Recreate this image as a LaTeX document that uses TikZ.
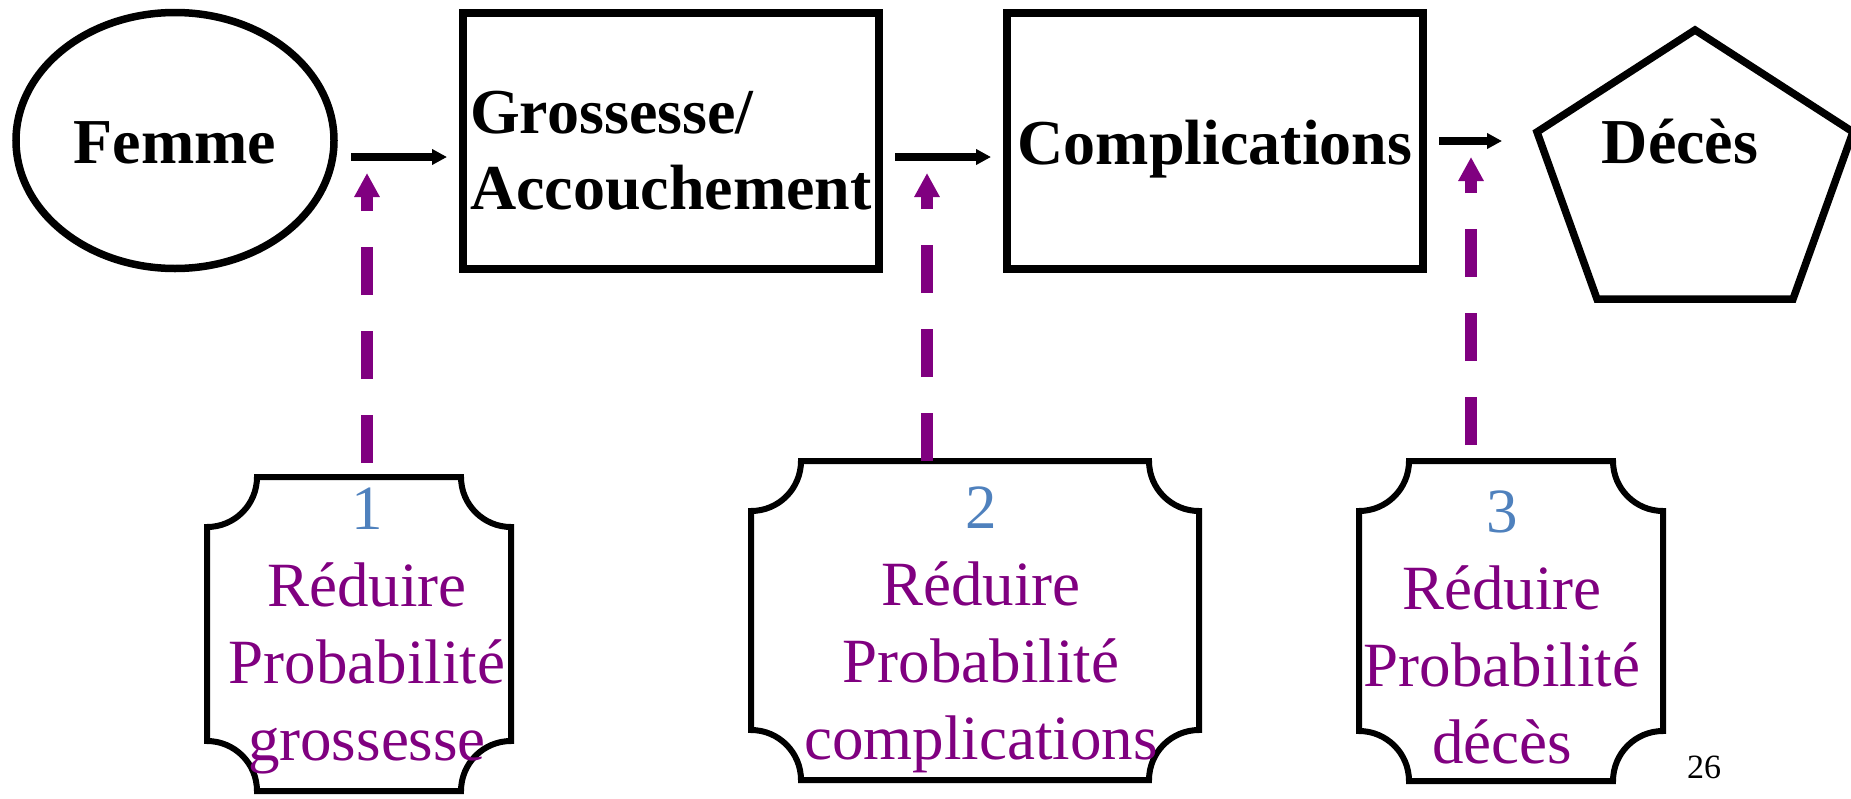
\documentclass[tikz,border=0pt]{standalone}
\usepackage{fontspec}
\setmainfont{Liberation Serif}
\usetikzlibrary{arrows.meta,calc,shapes.geometric}
\definecolor{plum}{RGB}{128,0,128}
\definecolor{stepblue}{RGB}{79,129,189}

% outline of a plaque: rectangle with concave quarter-circle corners
\newcommand\plaqueoutline[1]{%
  \draw[plaqueline] ([xshift=50pt]#1.north west) -- ([xshift=-50pt]#1.north east)
    arc[start angle=180,end angle=270,radius=50pt]
    -- ([yshift=50pt]#1.south east)
    arc[start angle=90,end angle=180,radius=50pt]
    -- ([xshift=50pt]#1.south west)
    arc[start angle=0,end angle=90,radius=50pt]
    -- ([yshift=-50pt]#1.north west)
    arc[start angle=270,end angle=360,radius=50pt]
    -- cycle;}

\begin{document}
\begin{tikzpicture}[x=1pt,y=-1pt,
  shapeline/.style={draw=black,line width=7.5pt,outer sep=0pt},
  stagebox/.style={shapeline,rectangle,minimum width=416pt,minimum height=256pt,inner sep=0pt},
  headtext/.style={font=\fontsize{64pt}{76pt}\selectfont\bfseries},
  flowarrow/.style={line width=7.5pt,-{Triangle[length=15pt,width=15pt]}},
  leverarrow/.style={draw=plum,line width=12pt,dash pattern=on 48pt off 36pt,-{Triangle[length=24pt,width=24pt]}},
  plaquebox/.style={rectangle,inner sep=0pt,outer sep=0pt},
  plaqueline/.style={draw=black,line width=6pt},
  leverlabel/.style={font=\fontsize{63pt}{77pt}\selectfont,text=plum,anchor=base},
]
\useasboundingbox (0,0) rectangle (1851,798);

% main chain
\node[shapeline,ellipse,minimum width=318pt,minimum height=256pt,inner sep=0pt,
      headtext,text height=45pt,text depth=0pt] (fem) at (175,140.5) {Femme};
\node[stagebox,headtext,text height=0pt,text depth=16pt] (gro) at (671,141)
  {\begin{tabular}[t]{@{}l@{}}Grossesse/\\Accouchement\end{tabular}};
\node[stagebox,headtext,text height=46pt,text depth=0pt] (com) at (1215,141) {Complications};

% pentagon
\coordinate (pc) at (1695,165);
\draw[shapeline] ($(pc)+(0,-135)$) -- ($(pc)+(158,-33)$) -- ($(pc)+(98,134)$)
  -- ($(pc)+(-98,134)$) -- ($(pc)+(-158,-33)$) -- cycle;
\node[headtext,anchor=base] (dec) at (1680,163) {Décès};

\draw[flowarrow] ($(fem.east)+(17,16.5)$) -- ($(gro.west)+(-16,16)$);
\draw[flowarrow] ($(gro.east)+(16,16)$) -- ($(com.west)+(-16,16)$);
\draw[flowarrow] ($(com.east)+(16,0)$) -- ($(pc)+(-193,-24)$);

% plaques with the three levers
\node[plaquebox,minimum width=304pt,minimum height=314pt] (p1) at (359,634) {};
\node[plaquebox,minimum width=448pt,minimum height=319pt] (p2) at (975,620.5) {};
\node[plaquebox,minimum width=304pt,minimum height=320pt] (p3) at (1511,621) {};
\plaqueoutline{p1}
\plaqueoutline{p2}
\plaqueoutline{p3}

\node[leverlabel] (l1) at (367,529)
  {\begin{tabular}[t]{@{}c@{}}\textcolor{stepblue}{1}\\Réduire\\Probabilité\\grossesse\end{tabular}};
\node[leverlabel] (l2) at (981,528)
  {\begin{tabular}[t]{@{}c@{}}\textcolor{stepblue}{2}\\Réduire\\Probabilité\\complications\end{tabular}};
\node[leverlabel] (l3) at (1502,532)
  {\begin{tabular}[t]{@{}c@{}}\textcolor{stepblue}{3}\\Réduire\\Probabilité\\décès\end{tabular}};

% dashed lever arrows
\coordinate (t1) at (367,173);
\coordinate (t2) at (927,173);
\coordinate (t3) at (1471,157);
\draw[leverarrow] ($(t1 |- p1.north)+(0,-14)$) -- (t1);
\draw[leverarrow] (t2 |- p2.north) -- (t2);
\draw[leverarrow] ($(t3 |- p3.north)+(0,-16)$) -- (t3);

% slide number
\node[font=\fontsize{34pt}{40pt}\selectfont,anchor=base] (pg) at (1704,778) {26};
\end{tikzpicture}
\end{document}
